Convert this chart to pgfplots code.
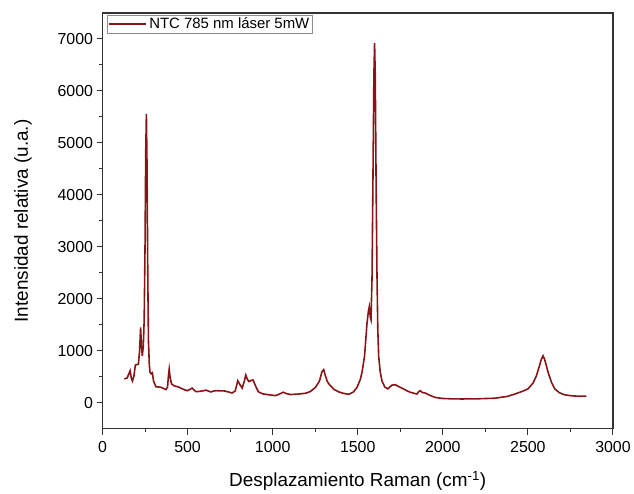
\documentclass[border=0pt]{standalone}
\usepackage{fontspec}
\setmainfont{Liberation Sans}
\usepackage{pgfplots}
\pgfplotsset{compat=1.18}
\definecolor{specred}{RGB}{135,20,22}
\begin{document}
\begin{tikzpicture}
\begin{axis}[
  name=ax,
  scale only axis,
  width=513pt, height=418pt,
  xmin=0, xmax=3000, ymin=-500, ymax=7500,
  xtick={0,500,...,3000}, ytick={0,1000,...,7000},
  minor xtick={250,750,...,2750}, minor ytick={500,1500,...,6500},
  tick align=outside, xtick pos=left, ytick pos=left,
  major tick length=6pt, minor tick length=3.5pt,
  axis line style={line width=1.2pt, black!80},
  every tick/.style={line width=1pt, black!80},
  /pgf/number format/assume math mode=true,
  /pgf/number format/set thousands separator={},
  tick label style={font=\fontsize{16}{16}\selectfont},
  xticklabel style={yshift=-3pt},
  xlabel={Desplazamiento Raman (cm\textsuperscript{-1})},
  ylabel={Intensidad relativa (u.a.)},
  label style={font=\fontsize{19}{21}\selectfont},
  xlabel style={yshift=-12pt},
  ylabel style={yshift=19pt},
  legend style={at={(0.008,0.996)}, anchor=north west, draw=black!45, line width=0.6pt,
    font=\fontsize{15}{15}\selectfont, inner sep=1pt, row sep=0pt},
  legend cell align=left,
  legend image code/.code={\draw[#1] (0pt,0pt) -- (38pt,0pt);},
]
\addplot[specred, line width=1.6pt] coordinates {
(129,459)(145,480)(162,617)(170,470)(176,420)(185,520)(193,727)(205,740)(211,745)
(218,1000)(224,1450)(229,1100)(234,900)(240,1100)(245,1600)(250,3000)(254,4800)
(258,5560)(262,4500)(266,2500)(270,1200)(275,750)(279,590)(286,560)(293,580)
(300,420)(314,310)(330,305)(344,300)(360,275)(373,255)(382,300)(387,500)(392,650)
(397,500)(406,365)(420,330)(451,300)(475,260)(498,235)(515,260)(527,285)(540,240)
(551,215)(580,225)(609,245)(620,230)(637,210)(650,225)(666,235)(690,232)(715,230)
(740,210)(762,190)(780,230)(795,425)(808,350)(821,285)(832,400)(842,535)(852,450)
(861,410)(872,430)(885,440)(900,320)(916,215)(940,175)(978,155)(1018,140)(1040,170)
(1062,205)(1080,180)(1105,160)(1150,170)(1193,185)(1220,215)(1252,300)(1275,420)
(1290,600)(1300,640)(1310,520)(1320,420)(1330,365)(1360,260)(1389,210)(1420,180)
(1447,165)(1475,210)(1496,300)(1515,450)(1525,585)(1540,900)(1554,1510)(1562,1750)
(1568,1850)(1574,1650)(1578,1600)(1584,2400)(1590,4500)(1595,6300)(1599,6920)
(1603,6300)(1608,4200)(1613,2500)(1618,1400)(1623,900)(1632,600)(1642,425)(1660,300)
(1677,270)(1700,340)(1720,350)(1740,315)(1759,285)(1785,240)(1808,205)(1830,185)
(1848,170)(1858,215)(1867,235)(1880,200)(1896,190)(1920,150)(1955,105)(2000,85)
(2050,78)(2111,75)(2200,78)(2306,90)(2380,125)(2423,170)(2470,225)(2501,270)
(2530,380)(2550,520)(2565,680)(2578,830)(2589,905)(2598,840)(2608,720)(2619,585)
(2638,400)(2658,270)(2685,195)(2716,155)(2760,135)(2800,128)(2843,130)
};
\addlegendentry{NTC 785 nm láser 5mW}
\end{axis}
\path ([shift={(-103pt,-63pt)}]ax.south west) rectangle ([shift={(18pt,13pt)}]ax.north east);
\end{tikzpicture}
\end{document}
